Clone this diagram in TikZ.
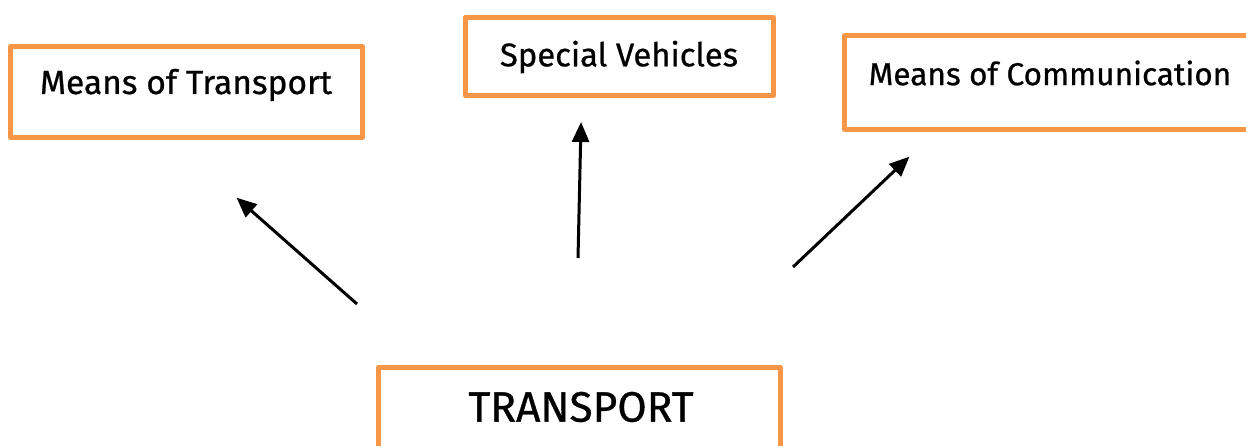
\documentclass[tikz,border=0pt]{standalone}
\usepackage{fontspec}
\setmainfont{Fira Sans}
\newfontfamily\lblfont{Fira Sans}[FakeBold=0.7]
\usetikzlibrary{arrows.meta}
\definecolor{boxorange}{HTML}{F79646}
\tikzset{
  orangebox/.style={draw=boxorange, line width=5pt, fill=white, line join=round},
  lbl/.style={inner sep=0pt, font=\lblfont},
  arr/.style={line width=3pt, -{Triangle[length=20pt,width=17pt]}, shorten >=-2pt}
}
\begin{document}
\begin{tikzpicture}[x=1pt,y=-1pt]
\useasboundingbox (0,0) rectangle (1246,446);
\fill[white] (0,0) rectangle (1246,446);
% boxes
\draw[orangebox] (10.5,46.5) rectangle (362.5,137.5);
\draw[orangebox] (465.5,17.5) rectangle (773.5,95.5);
\draw[orangebox] (844.5,35.5) rectangle (1260,129.5);
\draw[orangebox] (378.5,367.5) rectangle (780.5,470);
% texts
\node[lbl] (mot) at (186,85) {\fontsize{33.5}{40}\selectfont Means of Transport};
\node[lbl] (sv) at (619,57) {\fontsize{32.8}{40}\selectfont Special Vehicles};
\node[lbl] (moc) at (1050,73) {\fontsize{31.6}{40}\selectfont Means of Communication};
\node[lbl] (tr) at (581,407) {\fontsize{42.5}{50}\selectfont TRANSPORT};
% arrow ends
\coordinate (a1s) at (357,304);
\coordinate (a1e) at (238,199);
\coordinate (a2s) at (578,258);
\coordinate (a2e) at (581,124);
\coordinate (a3s) at (793,267);
\coordinate (a3e) at (908,158);
\draw[arr] (a1s) -- (a1e);
\draw[arr] (a2s) -- (a2e);
\draw[arr] (a3s) -- (a3e);
\end{tikzpicture}
\end{document}
